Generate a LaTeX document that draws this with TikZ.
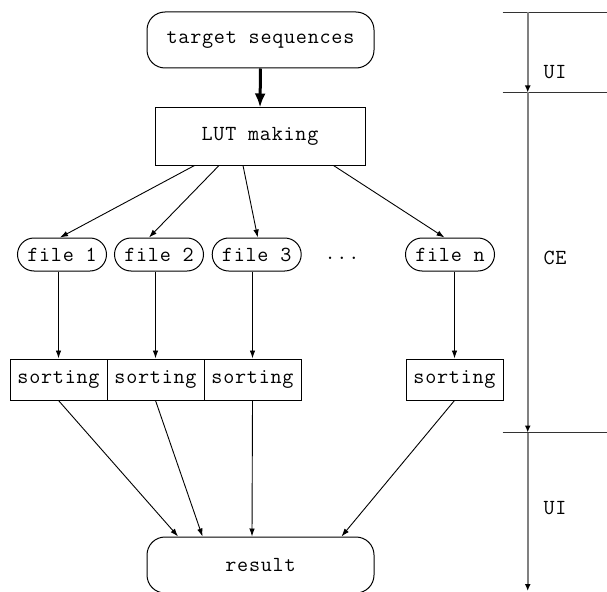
\documentclass[tikz,border=0pt]{standalone}
\usepackage{fontspec}
\setmonofont{Latin Modern Mono}[LetterSpace=3.5]
\usetikzlibrary{arrows.meta,shapes.misc}
\begin{document}
\begin{tikzpicture}[x=1pt,y=-1pt,
  every node/.style={font=\ttfamily\fontsize{21.5}{25}\selectfont},
  rbox/.style={draw, line width=1pt, rounded corners=18pt, minimum width=227pt, minimum height=56pt, inner sep=0pt},
  sqbox/.style={draw, line width=1pt, minimum width=210pt, minimum height=57pt, inner sep=0pt},
  filebox/.style={draw, line width=1pt, rounded rectangle, minimum width=89pt, minimum height=33pt, inner sep=0pt},
  sortbox/.style={draw, line width=1pt, minimum width=97pt, minimum height=41pt, inner sep=0pt},
  conn/.style={-{Latex[length=8pt,width=5.5pt]}, line width=0.9pt},
  thick conn/.style={-{Latex[length=14pt,width=11pt]}, line width=3pt},
  tline/.style={-{Latex[length=7pt,width=6pt,color=black]}, line width=1.8pt, draw=black!50},
  hline/.style={line width=1pt, draw=black!80},
  lbl/.style={text=black}
]
\useasboundingbox (0,0) rectangle (607,591);
\clip (0,0) rectangle (607,591);

% main nodes
\node[rbox] (target) at (260.5,40) {target sequences};
\node[sqbox] (lut) at (260,136.5) {LUT making};

\node[filebox] (file1) at (62,254.5) {file 1};
\node[filebox] (file2) at (159,254.5) {file 2};
\node[filebox] (file3) at (256.7,254.5) {file 3};
\node (dots) at (342,258) {...};
\node[filebox] (filen) at (450,254.5) {file n};

\node[sortbox] (sort1) at (58.5,379.5) {sorting};
\node[sortbox] (sort2) at (155.5,379.5) {sorting};
\node[sortbox] (sort3) at (252.5,379.5) {sorting};
\node[sortbox] (sortn) at (454.5,379.5) {sorting};

\node[rbox] (result) at (260.5,565) {result};

% connectors
\draw[thick conn] (target.south) -- (lut.north);

\draw[conn] ([xshift=40pt]lut.south west) -- ([xshift=-2pt]file1.north);
\draw[conn] ([xshift=64.5pt]lut.south west) -- ([xshift=-10pt]file2.north);
\draw[conn] ([xshift=88.5pt]lut.south west) -- ([xshift=1pt]file3.north);
\draw[conn] ([xshift=179pt]lut.south west) -- ([xshift=-5.5pt]filen.north);

\draw[conn] (file1.south -| sort1.north) -- (sort1.north);
\draw[conn] (file2.south -| sort2.north) -- (sort2.north);
\draw[conn] (file3.south -| sort3.north) -- (sort3.north);
\draw[conn] (filen.south -| sortn.north) -- (sortn.north);

\draw[conn] (sort1.south) -- ([xshift=31.6pt]result.north west);
\draw[conn] (sort2.south) -- ([xshift=56pt]result.north west);
\draw[conn] (sort3.south) -- ([xshift=105.5pt]result.north west);
\draw[conn] (sortn.south) -- ([xshift=195pt]result.north west);

% timeline
\coordinate (t0) at (527.7,12);
\coordinate (t1) at (527.7,92.5);
\coordinate (t2) at (527.7,432.5);
\coordinate (t3) at (527.7,591);
\coordinate (h0) at (502.5,12.5);
\coordinate (h1) at (502.5,92.5);
\coordinate (h2) at (502.5,432.5);
\coordinate (e0) at (607,12.5);
\coordinate (e1) at (607,92.5);
\coordinate (e2) at (607,432.5);

\draw[hline] (h0) -- (e0);
\draw[hline] (h1) -- (e1);
\draw[hline] (h2) -- (e2);

\draw[tline] (t0) -- (t1);
\draw[tline] (t1) -- (t2);
\draw[tline] (t2) -- (t3);

\node[lbl] (ui1) at (555,72) {UI};
\node[lbl] (ce) at (555,258) {CE};
\node[lbl] (ui2) at (555,508) {UI};
\end{tikzpicture}
\end{document}
